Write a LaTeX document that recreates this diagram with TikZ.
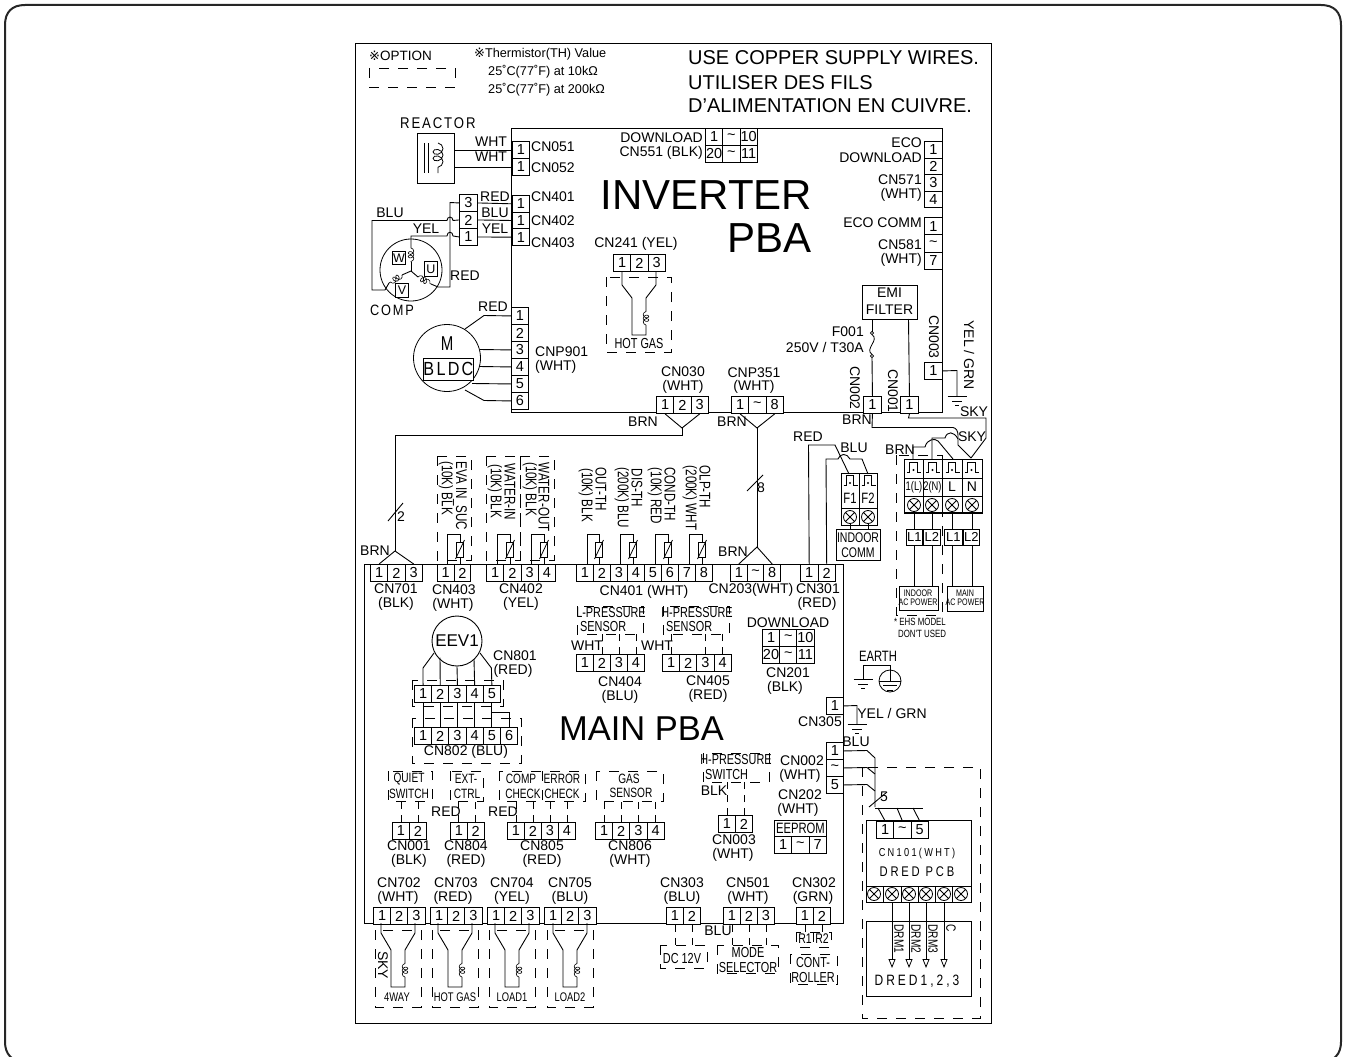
\documentclass[tikz,border=0pt]{standalone}
\usepackage{fontspec}
\setmainfont{Liberation Sans}
\newfontfamily\nrw[FakeStretch=0.75]{Liberation Sans}
\newfontfamily\spaced[FakeStretch=0.85,LetterSpace=12]{Liberation Sans}
\newfontfamily\spacedb[FakeStretch=0.8,LetterSpace=20]{Liberation Sans}
\newfontfamily\djv{DejaVu Sans}
\usetikzlibrary{decorations.pathmorphing,arrows.meta,calc}
\newcount\lblc
\newcommand\fz[1]{\fontsize{#1}{#1}\selectfont}
\tikzset{
  wire/.style={line width=.9pt,black,line join=miter},
  txt/.style={font=\fz{14},inner sep=0pt,text=black},
  nf/.style={font=\nrw\fz{15.5},inner sep=0pt},
  nfs/.style={font=\nrw\fz{13.5},inner sep=0pt},
  nft/.style={font=\nrw\fz{9.5},inner sep=0pt},
  rt/.style={rotate=-90},
  cellb/.style={draw,line width=.9pt,fill=white,inner sep=0pt,font=\fz{14.5},anchor=north west},
  boxn/.style={draw,line width=.9pt,inner sep=0pt,anchor=north west},
  opt/.style={line width=.8pt,dash pattern=on 10pt off 9pt},
  tick/.style={line width=.8pt,dash pattern=on 7pt off 6pt},
  coilw/.style={line width=.6pt,decorate,decoration={coil,aspect=.8,amplitude=2.8pt,segment length=3.6pt}},
  coilb/.style={line width=.8pt,decorate,decoration={coil,aspect=.8,amplitude=5pt,segment length=6.5pt}},
}
\newcommand\lab[4][]{\global\advance\lblc by 1 \node[txt,#1] (lbl\the\lblc) at (#2,#3) {#4};}
% name, x, y, w, list
\newcommand\pins[5]{\foreach \t [count=\i] in {#5} {\node[cellb,minimum width=#4pt,minimum height=17pt] (#1-\i) at ({#2+(\i-1)*#4},#3) {\t};}}
% name, x, y, h, w, list
\newcommand\vpins[6]{\foreach \t [count=\i] in {#6} {\node[cellb,minimum width=#5pt,minimum height=#4pt] (#1-\i) at (#2,{#3+(\i-1)*#4}) {\t};}}
\newcommand\tld{\textasciitilde}
\newcommand\boxr[6][]{\node[boxn,minimum width=#5pt,minimum height=#6pt,#1] (#2) at (#3,#4) {};}
\newcommand\optbox[4]{\draw[opt] (#1,#2) rectangle (#3,#4);}
\newcommand\myxc[2]{\draw[line width=.8pt] (#1,#2) circle[radius=6.5pt] ($(#1,#2)+(-4.6,-4.6)$) -- ($(#1,#2)+(4.6,4.6)$) ($(#1,#2)+(-4.6,4.6)$) -- ($(#1,#2)+(4.6,-4.6)$);}
\newcommand\myterm[2]{\draw[line width=.8pt] (#1+2.7,#2+12) -- (#1+5,#2+12) -- (#1+5,#2+2) -- (#1+12.5,#2+2) -- (#1+12.5,#2+12) -- (#1+16.7,#2+12);\fill (#1+9,#2+10) circle[radius=1.1pt];}
\newcommand\mygnd[2]{\draw[line width=.8pt] (#1-9.5,#2) -- (#1+9.5,#2) (#1-5,#2+5) -- (#1+5,#2+5) (#1-2,#2+9) -- (#1+2,#2+9);}
\newcommand\mythm[2]{\draw[wire] (#1,564) -- (#1,534) -- (#2,534) -- (#2,564);\draw[line width=.8pt,fill=white] (#2-3.5,542) rectangle (#2+3.5,557);\draw[line width=.8pt] (#2-4.5,559) -- (#2+4.5,540);}
% x0, ycell, y1, y2, y3
\newcommand\myvalve[5]{\draw[wire] (#1,#2) -- (#1,#3) -- (#1+10,#4) -- (#1+10,#5) -- (#1+24,#5) -- (#1+24,#5-10);\draw[coilw] (#1+24,#5-10) -- (#1+24,#4+12);\draw[wire] (#1+24,#4+12) -- (#1+24,#4) -- (#1+34,#3) -- (#1+34,#2);}
\begin{document}
\begin{tikzpicture}[x=1pt,y=-1pt]
\useasboundingbox (0,0) rectangle (1347,1057);
\begin{scope}
\clip (0,0) rectangle (1347,1057);
\draw[line width=2pt,black!85] (5,25) -- (5,1042) .. controls (5,1054) and (12,1062) .. (25,1062) -- (1321,1062) .. controls (1334,1062) and (1341,1054) .. (1341,1042) -- (1341,25) .. controls (1341,12) and (1334,5) .. (1321,5) -- (25,5) .. controls (12,5) and (5,12) .. (5,25) -- cycle;
\end{scope}
\boxr[line width=1pt]{frame}{355}{43}{636}{980}
\boxr{inv}{511}{128}{431}{284}
\boxr{mainb}{364}{564}{479}{359}
% ---------- header
\lab[font=\fz{13.5},anchor=west]{369}{56}{{\djv\fz{13}※}OPTION}
\optbox{369}{68}{455}{87}
\lab[font=\fz{12.7},anchor=west]{474}{54}{{\djv\fz{13}※}Thermistor(TH) Value}
\lab[font=\fz{12.7},anchor=west]{488}{72}{25˚C(77˚F) at 10kΩ}
\lab[font=\fz{12.7},anchor=west]{488}{90}{25˚C(77˚F) at 200kΩ}
\lab[font=\fz{20},anchor=west]{688}{58}{USE COPPER SUPPLY WIRES.}
\lab[font=\fz{20},anchor=west]{688}{83}{UTILISER DES FILS}
\lab[font=\fz{20},anchor=west]{688}{106}{D'ALIMENTATION EN CUIVRE.}
% ---------- reactor
\lab[font=\spaced\fz{15.5},anchor=west]{400}{123}{REACTOR}
\boxr{reactor}{417}{133}{37}{50}
\draw[wire] (424,143) -- (424,173) (428,143) -- (428,173);
\draw[coilb] (438,143) -- (438,173);
\vpins{cna}{512}{141}{17}{17}{1,1}
\draw[wire] (cna-1.west) -- (reactor.east |- cna-1.west);
\draw[wire] (cna-2.west) -- (reactor.east |- cna-2.west);
\lab{491}{142}{WHT}\lab{491}{157}{WHT}
\lab[anchor=west]{531}{147}{CN051}\lab[anchor=west]{531}{168}{CN052}
% ---------- comp
\vpins{cnb}{512}{195}{16.7}{17}{1,1,1}
\vpins{cnc}{459}{194}{17}{18}{3,2,1}
\draw[wire] (cnc-1.east) -- (cnb-1.west);
\draw[wire] (cnc-2.east) -- (cnb-2.west);
\draw[wire] (cnc-3.east) -- (cnb-3.west);
\lab[anchor=west]{531}{197}{CN401}\lab[anchor=west]{531}{221}{CN402}\lab[anchor=west]{531}{243}{CN403}
\lab{495}{197}{RED}\lab{495}{213}{BLU}\lab{495}{229}{YEL}
\lab{390}{213}{BLU}\lab{426}{229}{YEL}\lab{465}{276}{RED}
\lab[font=\spaced\fz{15}]{392}{310}{COMP}
\draw[line width=.8pt] (411,270) circle[radius=31pt];
\draw[wire] (cnc-1.west) -- (450,202.5) -- (450,287) -- (438,287);
\draw[wire] (cnc-2.west) -- (453,220.5) .. controls (453,216) and (447,216) .. (447,220.5) -- (372,220.5) -- (372,290) -- (385,290);
\draw[wire] (cnc-3.west) -- (453,236) .. controls (453,231) and (447,231) .. (447,236) -- (411,236) -- (411,248);
\draw[coilw] (411,248) -- (411,262);
\draw[wire] (411,262) -- (411,271);
\draw[wire] (411,271) -- (418,277);
\draw[coilw] (418,277) -- (431,284);
\draw[wire] (431,284) -- (438,287);
\draw[wire] (411,271) -- (402,275);
\draw[coilw] (402,275) -- (389,283);
\draw[wire] (389,283) -- (385,290);
\node[boxn,minimum width=13pt,minimum height=13pt,font=\fz{12.5},fill=white] (boxw) at (392,251) {W};
\node[boxn,minimum width=13pt,minimum height=15pt,font=\fz{12.5},fill=white] (boxu) at (424,261) {U};
\node[boxn,minimum width=13pt,minimum height=14pt,font=\fz{12.5},fill=white] (boxv) at (395,283) {V};
% ---------- BLDC
\vpins{cnd}{511}{307}{17}{17}{1,2,3,4,5,6}
\draw[line width=.8pt] (447,358) circle[radius=33.5pt];
\lab[font=\nrw\fz{20}]{447}{344}{M}
\node[boxn,minimum width=49pt,minimum height=22pt,font=\spaced\fz{19},fill=white] (bldc) at (423,358) {BLDC};
\lab{493}{307}{RED}
\draw[wire] (cnd-1.west) -- (484,315.5) -- (465,329);
\draw[wire] (cnd-3.west) -- (480,349.5);
\draw[wire] (cnd-4.west) -- (479,366.5);
\draw[wire] (cnd-5.west) -- (472,383.5);
\draw[wire] (cnd-6.west) -- (484,400.5) -- (465,390);
\lab[anchor=west]{535}{352}{CNP901}\lab[anchor=west]{535}{367}{(WHT)}
% ---------- CN241
\lab{636}{244}{CN241 (YEL)}
\pins{cne}{613}{254}{17.3}{1,2,3}
\optbox{606}{277}{671}{352}
\myvalve{622}{271}{285}{298}{335}
\node[fill=white,font=\nrw\fz{14.5},inner sep=1pt] (hg) at (639,344) {HOT GAS};
% ---------- CN551
\pins{cnf}{705}{128}{17.3}{1,\tld,10}
\pins{cng}{705}{145}{17.3}{20,\tld,11}
\lab[anchor=east]{703}{138}{DOWNLOAD}\lab[anchor=east]{703}{153}{CN551 (BLK)}
\lab[font=\fz{42}]{706.5}{195}{INVERTER}
\lab[font=\fz{42}]{769.5}{238}{PBA}
% ---------- ECO
\vpins{cnh}{924}{141}{16.6}{18}{1,2,3,4}
\vpins{cni}{924}{217}{17.3}{18}{1,\tld,7}
\lab[anchor=east]{922}{143}{ECO}\lab[anchor=east]{922}{158}{DOWNLOAD}
\lab[anchor=east]{922}{180}{CN571}\lab[anchor=east]{922}{195}{(WHT)}
\lab[anchor=east]{922}{223}{ECO COMM}
\lab[anchor=east]{922}{245}{CN581}\lab[anchor=east]{922}{260}{(WHT)}
% ---------- EMI
\boxr{emi}{862}{285}{55}{34}
\lab{889.5}{293}{EMI}\lab{889.5}{310}{FILTER}
\lab[anchor=east]{864}{332}{F001}\lab[anchor=east]{864}{347}{250V / T30A}
\pins{cnj}{863}{396}{18}{1}
\pins{cnk}{900}{396}{18}{1}
\pins{cnl}{924}{362}{18}{1}
\draw[wire] (872,319) -- (872,331.5);
\draw[line width=.7pt] (872,333) circle[radius=1.6pt] (872,356) circle[radius=1.6pt];
\draw[line width=.8pt] (872,334.6) .. controls (880,340) and (864,349) .. (872,354.4);
\draw[wire] (872,357.6) -- (cnj-1.north);
\draw[wire] (cnk-1.north) -- (908.5,319);
\lab[rt]{855}{388}{CN002}\lab[rt]{893}{391}{CN001}\lab[rt]{934}{337}{CN003}
\lab[rt]{969}{355}{YEL / GRN}
\draw[wire] (cnl-1.east) -- (957,370.5) -- (957,396);
\mygnd{957}{396}
\lab{974}{412}{SKY}\lab{972}{437}{SKY}
\lab{857}{420}{BRN}\lab{900}{450}{BRN}
% ---------- CN030 CNP351
\pins{cnm}{656}{396}{17.3}{1,2,3}
\pins{cnn}{731}{396}{17.3}{1,\tld,8}
\lab{683}{372}{CN030}\lab{683}{387}{(WHT)}
\lab{754}{373}{CNP351}\lab{754}{387}{(WHT)}
\lab{643}{422}{BRN}\lab{732}{422}{BRN}
\coordinate (apa) at (682,428);
\coordinate (apb) at (757,428);
\draw[wire] (cnm-1.south) -- (apa) -- (cnm-3.south);
\draw[wire] (cnn-1.south) -- (apb) -- (cnn-3.south);
% ---------- main connectors top
\pins{p701}{370}{564}{17.3}{1,2,3}
\pins{p403}{437}{564}{16.6}{1,2}
\pins{p402}{486}{564}{17.25}{1,2,3,4}
\pins{p401}{576}{564}{17}{1,2,3,4,5,6,7,8}
\pins{p203}{730}{564}{16.7}{1,\tld,8}
\pins{p301}{800}{564}{17.5}{1,2}
\coordinate (apc) at (395,551);
\coordinate (apd) at (757,547);
\draw[wire] (apa) -- (682,435) -- (395,435) -- (apc);
\draw[wire] (p701-1.north) -- (apc) -- (p701-3.north);
\draw[wire] (apb) -- (apd);
\draw[wire] (p203-1.north) -- (apd) -- (p203-3.north);
\draw[wire] (388,521) -- (403,503);\lab{401}{517}{2}
\draw[wire] (747,491) -- (763,475);\lab{761}{488}{8}
\lab{375}{551}{BRN}\lab{733}{552}{BRN}
\lab{396}{589}{CN701}\lab{396}{604}{(BLK)}
\lab{454}{590}{CN403}\lab{453}{605}{(WHT)}
\lab{521}{589}{CN402}\lab{521}{604}{(YEL)}
\lab{644}{592}{CN401 (WHT)}
\lab{751}{590}{CN203(WHT)}
\lab{818}{589}{CN301}\lab{817}{604}{(RED)}
\optbox{437}{456}{471}{560}
\optbox{486}{456}{520}{560}
\optbox{520}{456}{554}{560}
\lab[nf,rt]{460}{496}{EVA IN\_SUC}\lab[nf,rt]{446}{488}{(10K) BLK}
\lab[nf,rt]{510}{492}{WATER-IN}\lab[nf,rt]{495}{491}{(10K) BLK}
\lab[nf,rt]{544}{497}{WATER-OUT}\lab[nf,rt]{530}{489}{(10K) BLK}
\lab[nf,rt]{601}{489}{OUT-TH}\lab[nf,rt]{586}{495}{(10K) BLK}
\lab[nf,rt]{637}{488}{DIS-TH}\lab[nf,rt]{622}{498}{(200K) BLU}
\lab[nf,rt]{670}{494}{COND-TH}\lab[nf,rt]{655}{496}{(10K) RED}
\lab[nf,rt]{705}{487}{OLP-TH}\lab[nf,rt]{690}{498}{(200K) WHT}
\mythm{447}{460}\mythm{497}{510}\mythm{531}{544}
\mythm{587}{599}\mythm{620}{633}\mythm{655}{668}\mythm{689}{702}
% ---------- pressure
\optbox{577}{606}{643}{634}
\optbox{663}{606}{729}{634}
\lab[font=\nrw\fz{14.5}]{611}{613}{L-PRESSURE}\lab[font=\nrw\fz{14.5},anchor=west]{580}{627}{SENSOR}
\lab[font=\nrw\fz{14.5}]{697}{613}{H-PRESSURE}\lab[font=\nrw\fz{14.5},anchor=west]{666}{627}{SENSOR}
\lab{587}{646}{WHT}\lab{657}{646}{WHT}
\pins{p404}{576}{654}{17}{1,2,3,4}
\pins{p405}{662}{654}{17.2}{1,2,3,4}
\foreach \n in {p404-2,p404-3,p404-4,p405-1,p405-3,p405-4}{\draw[tick] (\n.north) -- ++(0,-20);}
\lab{620}{682}{CN404}\lab{620}{697}{(BLU)}
\lab{708}{681}{CN405}\lab{708}{696}{(RED)}
\lab{788}{623}{DOWNLOAD}
\pins{p201a}{762}{629}{17.2}{1,\tld,10}
\pins{p201b}{762}{646}{17.2}{20,\tld,11}
\lab{788}{673}{CN201}\lab{785}{688}{(BLK)}
% ---------- EEV
\node[draw,circle,line width=.9pt,minimum size=50pt,inner sep=0pt,font=\fz{17}] (eev) at (457,641) {EEV1};
\optbox{412}{680}{503}{706}
\optbox{412}{718}{521}{763}
\pins{p801}{414}{685}{17.2}{1,2,3,4,5}
\pins{p802}{414}{727}{17.2}{1,2,3,4,5,6}
\draw[wire] (434,653) -- (423,668) -- (p801-1.north);
\draw[wire] (440,657.5) -- (p801-2.north);
\draw[wire] (eev.south) -- (p801-3.north);
\draw[wire] (474,659) -- (p801-4.north);
\draw[wire] (480,653) -- (491.4,668) -- (p801-5.north);
\foreach \k in {1,2,3,4,5}{\draw[wire] (p801-\k.south) -- (p802-\k.north);}
\draw[wire] (p802-6.north) -- ++(0,-15) -| (p802-5.north);
\lab{515}{656}{CN801}\lab{513}{671}{(RED)}
\lab{466}{752}{CN802 (BLU)}
\lab[font=\fz{34.5}]{641.5}{729}{MAIN PBA}
% ---------- option row
\optbox{388}{771}{432}{801}
\optbox{450}{771}{483}{801}
\optbox{499}{771}{585}{801}
\draw[opt] (542,771) -- (542,801);
\optbox{596}{771}{663}{801}
\lab[nfs]{409}{779}{QUIET}\lab[nfs]{409}{794}{SWITCH}
\lab[nfs]{466}{779}{EXT-}\lab[nfs]{467}{794}{CTRL}
\lab[nfs]{521}{779}{COMP}\lab[nfs]{523}{794}{CHECK}
\lab[nfs]{562}{779}{ERROR}\lab[nfs]{562}{794}{CHECK}
\lab[nfs]{629}{779}{GAS}\lab[nfs]{631}{793}{SENSOR}
\pins{p001}{392}{822}{17}{1,2}
\pins{p804}{450}{822}{16.8}{1,2}
\pins{p805}{507}{822}{17}{1,2,3,4}
\pins{p806}{595}{822}{17.2}{1,2,3,4}
\foreach \n in {p001-1,p001-2,p804-1,p804-2,p805-1,p805-2,p805-3,p805-4,p806-1,p806-2,p806-3,p806-4}{\draw[tick] (\n.north) -- ++(0,-21);}
\lab{446}{812}{RED}\lab{503}{812}{RED}
\lab{409}{846}{CN001}\lab{409}{861}{(BLK)}
\lab{466}{846}{CN804}\lab{466}{861}{(RED)}
\lab{542}{846}{CN805}\lab{542}{861}{(RED)}
\lab{630}{846}{CN806}\lab{630}{861}{(WHT)}
% ---------- H switch
\optbox{703}{753}{769}{782}
\lab[font=\nrw\fz{14.5}]{736}{760}{H-PRESSURE}\lab[font=\nrw\fz{14.5},anchor=west]{705}{775}{SWITCH}
\lab{714}{791}{BLK}
\pins{p003}{718}{815}{17}{1,2}
\draw[tick] (p003-1.north) -- ++(0,-33);
\draw[tick] (p003-2.north) -- ++(0,-33);
\lab{734}{840}{CN003}\lab{733}{855}{(WHT)}
\lab{802}{761}{CN002}\lab{800}{776}{(WHT)}
\lab{800}{795}{CN202}\lab{798}{810}{(WHT)}
\node[boxn,minimum width=52pt,minimum height=16pt,font=\nrw\fz{15}] (eeprom) at (774,820) {EEPROM};
\pins{p202}{774}{836}{17.3}{1,\tld,7}
% ---------- CN305, EARTH
\pins{p305}{826}{697}{17}{1}
\lab{820}{722}{CN305}
\draw[wire] (p305-1.east) -- (857,705.5) -- (857,724);
\mygnd{857}{724}
\lab{892}{713}{YEL / GRN}
\lab[font=\nrw\fz{15}]{878}{656}{EARTH}
\draw[wire] (863,679) -- (863,665) -- (890,665) -- (890,681);
\mygnd{863}{679}
\draw[line width=.8pt] (890,681) circle[radius=11pt];
\draw[line width=.8pt] (879,681) -- (901,681) (883,685.5) -- (897,685.5) (887,690) -- (893,690);
% ---------- CN002 main
\vpins{p002}{826}{742}{17}{17}{1,\tld,5}
\lab{856}{742}{BLU}
\draw[wire] (p002-1.east) -- (867,750.5) -- (875,758) -- (875,807);
\draw[wire] (p002-2.east) -- (867,767.5) -- (875,774);
\draw[wire] (p002-3.east) -- (867,784.5) -- (875,791);
\draw[wire] (869,807) -- (887,792);\lab{884}{797}{5}
\draw[wire] (875,808) -- (923,808);
% ---------- DRED
\optbox{862}{767}{980}{1018}
\boxr[fill=white]{pcb}{866}{820}{105}{82}
\pins{p101}{876}{821}{17.3}{1,\tld,5}
\draw[wire] (878,808) -- (p101-1.north);
\draw[wire] (897,808) -- (p101-2.north);
\draw[wire] (913,808) -- (p101-3.north);
\lab[font=\spacedb\fz{11.5}]{917}{854}{CN101(WHT)}
\lab[font=\spacedb\fz{14}]{917}{872}{DRED PCB}
\draw[line width=.9pt] (866,886) -- (971,886);
\foreach \x in {883.5,901,918,935,952.5}{\draw[line width=.8pt] (\x,886) -- (\x,902);}
\foreach \x in {874,892,909,926,944,961}{\myxc{\x}{894}}
\boxr{dredb}{866}{921}{105}{75}
\foreach \x in {892,909,926,944}{\draw[line width=.8pt,-{Triangle[open,length=9pt,width=7pt]}] (\x,902) -- (\x,968);}
\lab[nfs,rt]{899}{939}{DRM1}\lab[nfs,rt]{916}{939}{DRM2}\lab[nfs,rt]{933}{939}{DRM3}\lab[nfs,rt]{951}{928}{C}
\lab[font=\spacedb\fz{15}]{917}{981}{DRED1,2,3}
% ---------- bottom row
\pins{p702}{373}{907}{17.2}{1,2,3}
\pins{p703}{430}{907}{17.2}{1,2,3}
\pins{p704}{487}{907}{17.2}{1,2,3}
\pins{p705}{544}{907}{17.2}{1,2,3}
\lab{399}{883}{CN702}\lab{398}{898}{(WHT)}
\lab{456}{883}{CN703}\lab{453}{898}{(RED)}
\lab{512}{883}{CN704}\lab{512}{898}{(YEL)}
\lab{570}{883}{CN705}\lab{570}{898}{(BLU)}
\optbox{375}{930}{421}{1007}
\optbox{432}{930}{478}{1007}
\optbox{489}{930}{535}{1007}
\optbox{547}{930}{593}{1007}
\myvalve{381}{923}{933}{950}{987}
\myvalve{438}{923}{933}{950}{987}
\myvalve{495}{923}{933}{950}{987}
\myvalve{553}{923}{933}{950}{987}
\lab[font=\nrw\fz{12.5}]{397}{997}{4WAY}
\lab[font=\nrw\fz{12.5}]{455}{997}{HOT GAS}
\lab[font=\nrw\fz{12.5}]{512}{997}{LOAD1}
\lab[font=\nrw\fz{12.5}]{570}{997}{LOAD2}
\lab[rt]{383}{965}{SKY}
% ---------- bottom right
\pins{p303}{666}{907}{17}{1,2}
\pins{p501}{723}{907}{17}{1,2,3}
\pins{p302}{796}{907}{17}{1,2}
\lab{682}{883}{CN303}\lab{682}{898}{(BLU)}
\lab{748}{883}{CN501}\lab{748}{898}{(WHT)}
\lab{814}{883}{CN302}\lab{813}{898}{(GRN)}
\lab{718}{931}{BLU}
\optbox{660}{945}{707}{968}
\optbox{717}{945}{778}{973}
\optbox{796}{932}{831}{947}
\draw[opt] (813,932) -- (813,947);
\optbox{790}{954}{837}{984}
\lab[nfs,font=\nrw\fz{14.5}]{682}{958}{DC 12V}
\lab[nfs,font=\nrw\fz{14.5}]{748}{952}{MODE}\lab[nfs,font=\nrw\fz{14.5}]{748}{967}{SELECTOR}
\lab[nfs,font=\nrw\fz{14}]{805}{939}{R1}\lab[nfs,font=\nrw\fz{14}]{822}{939}{R2}
\lab[nfs,font=\nrw\fz{14.5}]{813}{962}{CONT-}\lab[nfs,font=\nrw\fz{14.5}]{813}{977}{ROLLER}
\foreach \n/\l in {p303-1/22,p303-2/22,p501-1/22,p501-2/22,p501-3/22,p302-1/9,p302-2/9}{\draw[tick] (\n.south) -- ++(0,\l);}
% ---------- F1 F2
\lab{808}{437}{RED}\lab{854}{448}{BLU}
\boxr{fblock}{841}{473}{36}{52}
\draw[line width=.8pt] (859,473) -- (859,525) (841,508) -- (877,508);
\myterm{841}{473}\myterm{859}{473}
\lab[font=\nrw\fz{15}]{850}{498}{F1}\lab[font=\nrw\fz{15}]{868}{498}{F2}
\myxc{850}{517}\myxc{868}{517}
\draw[wire] (p301-1.north) -- (808.5,445) -- (835,445) -- (849,474);
\draw[wire] (p301-2.north) -- (826,459) -- (838,459) .. controls (840,453) and (847,453) .. (850,459) -- (862,459) -- (868,474);
\node[boxn,minimum width=44pt,minimum height=31pt] (indc) at (836,529) {};
\lab[font=\nrw\fz{14}]{858}{538}{INDOOR}\lab[font=\nrw\fz{14}]{858}{553}{COMM}
\draw[wire] (850,523.5) -- (850,529) (868,523.5) -- (868,529);
% ---------- power block
\boxr[line width=.9pt]{pblock}{904}{459}{78}{54}
\draw[line width=.8pt] (923,459) -- (923,513) (942.5,459) -- (942.5,513) (962,459) -- (962,513) (904,478) -- (982,478) (904,496) -- (982,496);
\draw[line width=1.4pt] (904,513) -- (982,513);
\myterm{904.5}{460}\myterm{923.5}{460}\myterm{943}{460}\myterm{962.5}{460}
\lab[font=\nrw\fz{12.5}]{914}{487}{1(L)}\lab[font=\nrw\fz{12.5}]{932.5}{487}{2(N)}\lab{952}{487}{L}\lab{972}{487}{N}
\myxc{914}{505}\myxc{932}{505}\myxc{952}{505}\myxc{972}{505}
\optbox{896}{455}{942}{615}
\node[boxn,minimum width=16pt,minimum height=16pt,font=\fz{13}] (l1a) at (906,529) {L1};
\node[boxn,minimum width=17pt,minimum height=16pt,font=\fz{13}] (l2a) at (923,529) {L2};
\node[boxn,minimum width=18pt,minimum height=16pt,font=\fz{13}] (l1b) at (944,529) {L1};
\node[boxn,minimum width=16pt,minimum height=16pt,font=\fz{13}] (l2b) at (963,529) {L2};
\boxr{acin}{899}{586}{39}{24}
\boxr{acma}{947}{586}{36}{25}
\lab[nft]{918}{593}{INDOOR}\lab[nft]{918}{602}{AC POWER}
\lab[nft]{965}{593}{MAIN}\lab[nft]{965}{602}{AC POWER}
\lab[font=\nrw\fz{10.5}]{920}{622}{* EHS MODEL}\lab[font=\nrw\fz{10.5}]{922}{634}{DON'T USED}
\draw[wire] (914,511.5) -- (914,529) (914,545) -- (914,586);
\draw[wire] (932,511.5) -- (932,529) (932,545) -- (932,586);
\draw[wire] (952,511.5) -- (952,529) (952,545) -- (952,586);
\draw[wire] (972,511.5) -- (972,529) (972,545) -- (972,586);
% wiring to the terminals
\draw[wire] (cnk-1.south) -- (908.5,418) -- (986,418) -- (986,438) -- (971,458);
\draw[wire] (cnj-1.south) -- (872,427.5) -- (953,427.5) .. controls (956,428) and (958,431) .. (958,435) -- (958,445) -- (971,458);
\draw[wire] (932,459) -- (932,438) -- (945,438) .. controls (947,431) and (954,431) .. (958,439);
\draw[wire] (913,459) -- (913,447) -- (925,447) .. controls (927,439) and (935,438) .. (938,441) -- (953,459);
\end{tikzpicture}
\end{document}
